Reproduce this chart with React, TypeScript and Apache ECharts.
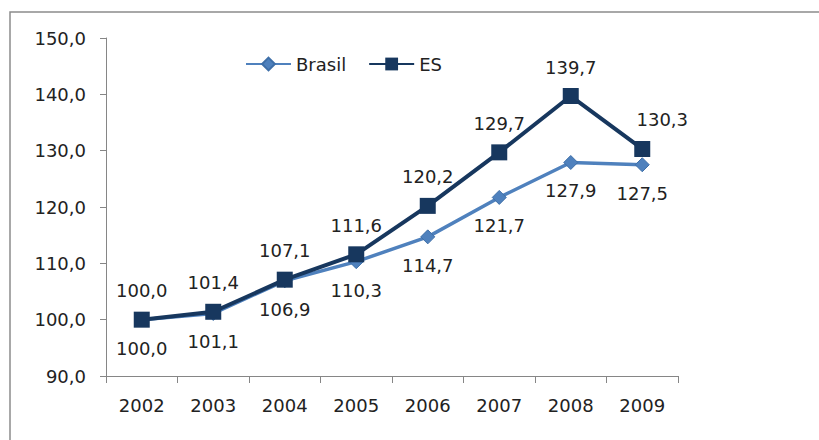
import React, { useEffect, useRef } from "react";
import * as echarts from "echarts";

const years = ["2002", "2003", "2004", "2005", "2006", "2007", "2008", "2009"];
const brasil = [100.0, 101.1, 106.9, 110.3, 114.7, 121.7, 127.9, 127.5];
const es = [100.0, 101.4, 107.1, 111.6, 120.2, 129.7, 139.7, 130.3];
const yTicks = { min: 90, max: 150, interval: 10 };

const fmt = (v: number) => v.toFixed(1).replace(".", ",");
const FONT = "DejaVu Sans";

export default function App() {
  const ref = useRef<HTMLDivElement>(null);
  useEffect(() => {
    document.body.style.margin = "0";
    const chart = echarts.init(ref.current!, undefined, { renderer: "svg" });
    chart.setOption({
      animation: false,
      backgroundColor: "#ffffff",
      graphic: [
        {
          type: "rect",
          shape: { x: 10, y: 12, width: 830, height: 440 },
          style: { fill: "none", stroke: "#8c8c8c", lineWidth: 1.5 },
          z: -1,
        },
      ],
      legend: {
        left: 245,
        top: 55,
        padding: 0,
        itemWidth: 45,
        itemHeight: 16,
        itemGap: 22,
        textStyle: { fontFamily: FONT, fontSize: 18, color: "#222" },
        data: ["Brasil", "ES"],
      },
      grid: { left: 106, right: 141, top: 38, bottom: 64 },
      xAxis: {
        type: "category",
        data: years,
        boundaryGap: true,
        axisLine: { lineStyle: { color: "#868686", width: 1 } },
        axisTick: { show: true, length: 7, lineStyle: { color: "#868686" } },
        axisLabel: { margin: 20, fontFamily: FONT, fontSize: 18, color: "#222" },
        splitLine: { show: false },
      },
      yAxis: {
        type: "value",
        min: yTicks.min,
        max: yTicks.max,
        interval: yTicks.interval,
        axisLine: { show: true, lineStyle: { color: "#868686", width: 1 } },
        axisTick: { show: true, length: 6, lineStyle: { color: "#868686" } },
        axisLabel: {
          margin: 20,
          fontFamily: FONT,
          fontSize: 18,
          color: "#222",
          formatter: (v: number) => fmt(v),
        },
        splitLine: { show: false },
      },
      series: [
        {
          name: "Brasil",
          type: "line",
          data: brasil,
          symbol: "diamond",
          symbolSize: 14,
          lineStyle: { color: "#4F81BD", width: 3.5 },
          itemStyle: { color: "#4F81BD", borderColor: "#3e6fa8", borderWidth: 1 },
          z: 2,
          label: {
            show: true,
            position: "bottom",
            distance: 12,
            fontFamily: FONT,
            fontSize: 18,
            color: "#222",
            formatter: (p: any) => fmt(p.value),
          },
        },
        {
          name: "ES",
          type: "line",
          data: es.map((v, i) =>
            i === es.length - 1 ? { value: v, label: { offset: [20, 0] } } : v
          ),
          symbol: "rect",
          symbolSize: 16,
          lineStyle: { color: "#17375E", width: 4 },
          itemStyle: { color: "#17375E" },
          z: 3,
          label: {
            show: true,
            position: "top",
            distance: 12,
            fontFamily: FONT,
            fontSize: 18,
            color: "#222",
            formatter: (p: any) => fmt(p.value),
          },
        },
      ],
    });
    return () => chart.dispose();
  }, []);
  return <div ref={ref} style={{ width: 819, height: 440 }} />;
}
